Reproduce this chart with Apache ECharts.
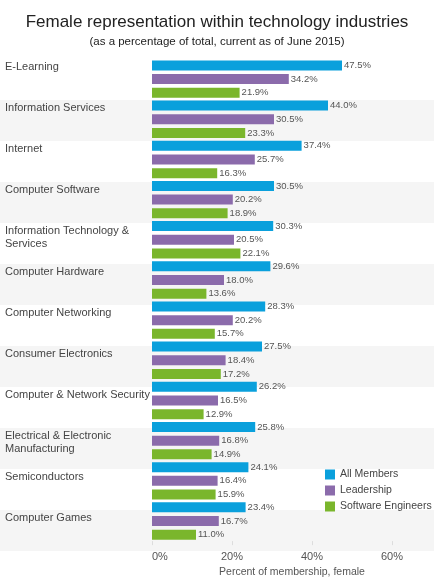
<!DOCTYPE html>
<html>
<head>
<meta charset="utf-8">
<script src="https://cdn.jsdelivr.net/npm/echarts@6/dist/echarts.min.js"></script>
<style>
  html, body { margin: 0; padding: 0; background: #fff; }
  #chart { width: 434px; height: 583px; }
</style>
</head>
<body>
<div id="chart"></div>
<script>
var industries = [
    'E-Learning',
    'Information Services',
    'Internet',
    'Computer Software',
    'Information Technology &\nServices',
    'Computer Hardware',
    'Computer Networking',
    'Consumer Electronics',
    'Computer & Network Security',
    'Electrical & Electronic\nManufacturing',
    'Semiconductors',
    'Computer Games'
];
var allMembers = [47.5, 44.0, 37.4, 30.5, 30.3, 29.6, 28.3, 27.5, 26.2, 25.8, 24.1, 23.4];
var leadership = [34.2, 30.5, 25.7, 20.2, 20.5, 18.0, 20.2, 18.4, 16.5, 16.8, 16.4, 16.7];
var softwareEngineers = [21.9, 23.3, 16.3, 18.9, 22.1, 13.6, 15.7, 17.2, 12.9, 14.9, 15.9, 11.0];
var xTicks = [0, 20, 40, 60];

var font = '"Liberation Sans", Arial, sans-serif';

// 三组柱子
function barSeries(name, data, color) {
    return {
        name: name,
        type: 'bar',
        data: data,
        xAxisIndex: 0,
        yAxisIndex: 0,
        barWidth: 10,
        barGap: '37%',
        itemStyle: { color: color },
        label: {
            show: true,
            position: 'right',
            distance: 2,
            fontFamily: font,
            fontSize: 9.5,
            color: '#555',
            formatter: function (p) { return p.value.toFixed(1) + '%'; }
        }
    };
}

var myChart = echarts.init(document.getElementById('chart'));
var option = {
    animation: false,
    backgroundColor: '#fff',
    title: [{
        text: 'Female representation within technology industries',
        left: 'center',
        top: 9,
        textStyle: { fontFamily: font, fontSize: 17, fontWeight: 'normal', color: '#222' }
    }, {
        text: '(as a percentage of total, current as of June 2015)',
        left: 'center',
        top: 31,
        textStyle: { fontFamily: font, fontSize: 11.5, fontWeight: 'normal', color: '#222' }
    }],
    legend: {
        orient: 'vertical',
        left: 325,
        top: 469,
        padding: 0,
        itemWidth: 10,
        itemHeight: 10,
        itemGap: 5,
        icon: 'rect',
        textStyle: { fontFamily: font, fontSize: 10.5, color: '#444' },
        data: ['All Members', 'Leadership', 'Software Engineers']
    },
    grid: [
        { left: 152, right: 2, top: 59, bottom: 32 },
        { left: 0, right: 0, top: 59, bottom: 32 }
    ],
    xAxis: [{
        type: 'value',
        gridIndex: 0,
        min: 0,
        max: 70,
        interval: 20,
        splitLine: { show: false },
        axisLine: { show: false },
        axisTick: { show: true, length: 4, customValues: xTicks, lineStyle: { color: '#ddd' } },
        axisLabel: {
            fontFamily: font,
            fontSize: 11,
            color: '#555',
            margin: 10,
            alignMinLabel: 'left',
            customValues: xTicks,
            formatter: function (v) { return v + '%'; }
        },
        name: 'Percent of membership, female',
        nameLocation: 'middle',
        nameGap: 24,
        nameTextStyle: { fontFamily: font, fontSize: 10.5, color: '#555' }
    }, {
        type: 'value',
        gridIndex: 1,
        show: false
    }],
    yAxis: [{
        type: 'category',
        gridIndex: 0,
        inverse: true,
        data: industries,
        axisLine: { show: false },
        axisTick: { show: false },
        axisLabel: { show: false }
    }, {
        // 背景条纹和行业名称
        type: 'category',
        gridIndex: 1,
        inverse: true,
        data: industries,
        axisLine: { show: false },
        axisTick: { show: false },
        splitArea: { show: true, areaStyle: { color: ['#fff', '#f5f5f5'] } },
        axisLabel: {
            inside: true,
            margin: 5,
            fontFamily: font,
            fontSize: 11,
            lineHeight: 13,
            color: '#444',
            formatter: function (v) {
                var lines = v.split('\n');
                while (lines.length < 3) lines.push(' ');
                return lines.join('\n');
            }
        }
    }],
    series: [
        barSeries('All Members', allMembers, '#0aa0dc'),
        barSeries('Leadership', leadership, '#8b6bab'),
        barSeries('Software Engineers', softwareEngineers, '#7ab62c')
    ]
};
myChart.setOption(option);
</script>
</body>
</html>
